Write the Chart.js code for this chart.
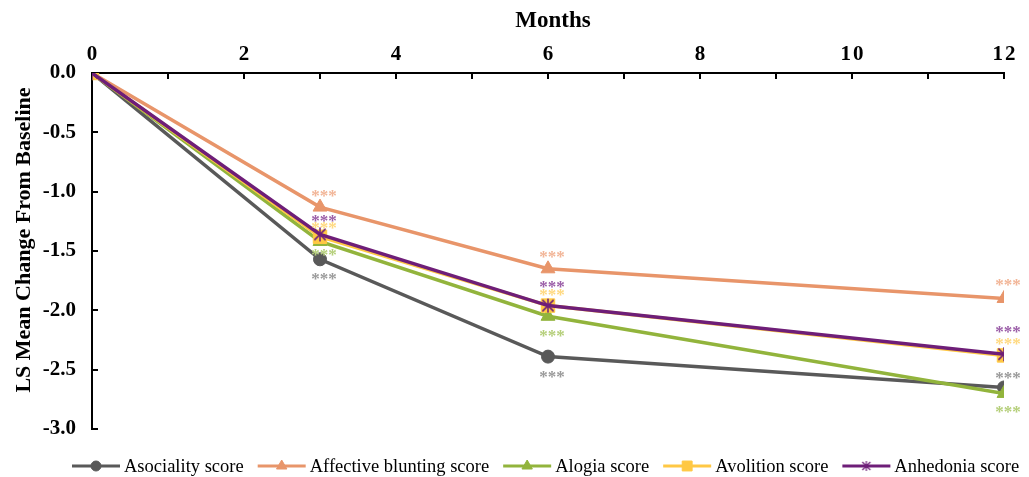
<!DOCTYPE html>
<html><head><meta charset="utf-8">
<script src="https://cdn.jsdelivr.net/npm/chart.js@4"></script>
<style>html,body{margin:0;padding:0;background:#fff}#wrap{width:1029px;height:477px}</style>
</head><body><div id="wrap"><canvas id="c" width="1029" height="477"></canvas></div>
<script>
const months = [0, 3, 6, 12];
const seriesNames = ["Asociality score", "Affective blunting score", "Alogia score", "Avolition score", "Anhedonia score"];
const asociality = [0, -1.57, -2.39, -2.65];
const affective = [0, -1.13, -1.65, -1.90];
const alogia = [0, -1.42, -2.05, -2.70];
const avolition = [0, -1.38, -1.96, -2.38];
const anhedonia = [0, -1.36, -1.96, -2.37];
const sigLabels = ["", "***", "***", "***"];
const xTickLabels = ["0", "2", "4", "6", "8", "10", "12"];
const yTickLabels = ["0.0", "-0.5", "-1.0", "-1.5", "-2.0", "-2.5", "-3.0"];

const colors = ["#595959", "#E8956A", "#92B43C", "#FFC844", "#6E1E78"];
const starColors = ["#9a9a9a", "#F2B597", "#B5CF7A", "#FFD97F", "#9B5EA8"];
const starOffsets = [[0, 16, 17, -13], [0, -14, -15, -17], [0, 10, 16, 15], [0, -12, -14, -15], [0, -17, -22, -26]];
const allData = [asociality, affective, alogia, avolition, anhedonia];

const serif = "'Liberation Serif','Times New Roman',serif";

function makeStar(size, color, lw) {
  const c = document.createElement('canvas');
  c.width = size; c.height = size;
  const g = c.getContext('2d');
  g.strokeStyle = color; g.lineWidth = lw;
  const h = size / 2, r = size / 2 - 1;
  g.beginPath();
  g.moveTo(h, h - r); g.lineTo(h, h + r);
  g.moveTo(h - r * 0.8, h - r * 0.8); g.lineTo(h + r * 0.8, h + r * 0.8);
  g.moveTo(h + r * 0.8, h - r * 0.8); g.lineTo(h - r * 0.8, h + r * 0.8);
  g.stroke();
  return c;
}
const starImg = makeStar(16, colors[4], 1.5);
const starImgSmall = makeStar(12, colors[4], 1.2);
const pointStyles = ["circle", "triangle", "triangle", "rect", starImg];
const legendStyles = ["circle", "triangle", "triangle", "rect", starImgSmall];
const radii = [6.5, 8, 8, 9.5, 8];
const legendRadii = [5, 6, 6, 7, 6];

const datasets = allData.map((d, i) => ({
  label: seriesNames[i],
  data: d.map((v, j) => ({x: months[j], y: v})),
  borderColor: colors[i],
  backgroundColor: colors[i],
  borderWidth: 3.5,
  pointStyle: pointStyles[i],
  pointRadius: radii[i],
  pointBorderWidth: 1,
  pointBorderColor: colors[i],
  order: 4 - i,
  tension: 0
}));

const customPlugin = {
  id: 'custom',
  afterDatasetsDraw(chart) {
    const ctx = chart.ctx;
    const xs = chart.scales.x, ys = chart.scales.y;
    const top = chart.chartArea.top, left = chart.chartArea.left;
    ctx.save();
    ctx.strokeStyle = '#000';
    ctx.lineWidth = 2;
    for (let m = 1; m <= 12; m++) {
      const px = Math.round(xs.getPixelForValue(m));
      ctx.beginPath(); ctx.moveTo(px, top); ctx.lineTo(px, top + 6); ctx.stroke();
    }
    for (let v = -0.5; v >= -3; v -= 0.5) {
      const py = Math.round(ys.getPixelForValue(v));
      ctx.beginPath(); ctx.moveTo(left, py); ctx.lineTo(left + 6, py); ctx.stroke();
    }
    // titles
    ctx.fillStyle = '#000';
    ctx.textAlign = 'center';
    ctx.textBaseline = 'middle';
    ctx.font = "bold 23px " + serif;
    ctx.fillText('Months', 553, 21);
    ctx.font = "bold 22px " + serif;
    ctx.save();
    ctx.translate(24, 240);
    ctx.rotate(-Math.PI / 2);
    ctx.fillText('LS Mean Change From Baseline', 0, 0);
    ctx.restore();
    // significance stars
    ctx.font = "bold 17px " + serif;
    allData.forEach((d, i) => {
      d.forEach((v, j) => {
        if (!sigLabels[j]) return;
        const px = xs.getPixelForValue(months[j]);
        const py = ys.getPixelForValue(v) + starOffsets[i][j];
        ctx.fillStyle = starColors[i];
        ctx.fillText(sigLabels[j], px + 4, py + 4);
      });
    });
    // legend
    ctx.font = "18.5px " + serif;
    const lineLen = 48, gap1 = 4, gap2 = 14;
    const widths = seriesNames.map(n => ctx.measureText(n).width);
    const total = widths.reduce((a, b) => a + b, 0) + seriesNames.length * (lineLen + gap1) + (seriesNames.length - 1) * gap2;
    let x = 1025 - total;
    x = Math.min(x, 72);
    const y = 466;
    ctx.textAlign = 'left';
    seriesNames.forEach((n, i) => {
      ctx.strokeStyle = colors[i];
      ctx.lineWidth = 3;
      ctx.beginPath(); ctx.moveTo(x, y); ctx.lineTo(x + lineLen, y); ctx.stroke();
      ctx.fillStyle = colors[i];
      ctx.lineWidth = 1;
      Chart.helpers.drawPoint(ctx, {pointStyle: legendStyles[i], radius: legendRadii[i], borderWidth: 1, rotation: 0}, x + lineLen / 2, y);
      ctx.fillStyle = '#000';
      ctx.fillText(n, x + lineLen + gap1, y + 1);
      x += lineLen + gap1 + widths[i] + gap2;
    });
    ctx.restore();
  }
};

new Chart(document.getElementById('c'), {
  type: 'line',
  data: {datasets},
  options: {
    responsive: false,
    animation: false,
    layout: {padding: {left: 0, right: 25, top: 0, bottom: 48}},
    plugins: {legend: {display: false}, tooltip: {enabled: false}},
    scales: {
      x: {
        type: 'linear', position: 'top', min: 0, max: 12,
        afterFit(s) { s.height = 73; },
        afterBuildTicks(s) { s.ticks = xTickLabels.map(t => ({value: Number(t)})); },
        grid: {display: false, drawTicks: false},
        border: {display: true, color: '#000', width: 2},
        ticks: {
          callback: (v) => xTickLabels.find(t => Number(t) === v).split('').join('\u200A'),
          color: '#000', font: {family: serif, size: 21, weight: 'bold'}, maxRotation: 0, padding: 6
        },
        title: {display: false}
      },
      y: {
        min: -3, max: 0,
        afterFit(s) { s.width = 92; },
        afterBuildTicks(s) { s.ticks = yTickLabels.map(t => ({value: Number(t)})); },
        grid: {display: false, drawTicks: false},
        border: {display: true, color: '#000', width: 2},
        ticks: {
          callback: (v) => yTickLabels.find(t => Number(t) === v),
          color: '#000', font: {family: serif, size: 21, weight: 'bold'}, padding: 16
        },
        title: {display: false}
      }
    }
  },
  plugins: [customPlugin]
});
</script></body></html>
